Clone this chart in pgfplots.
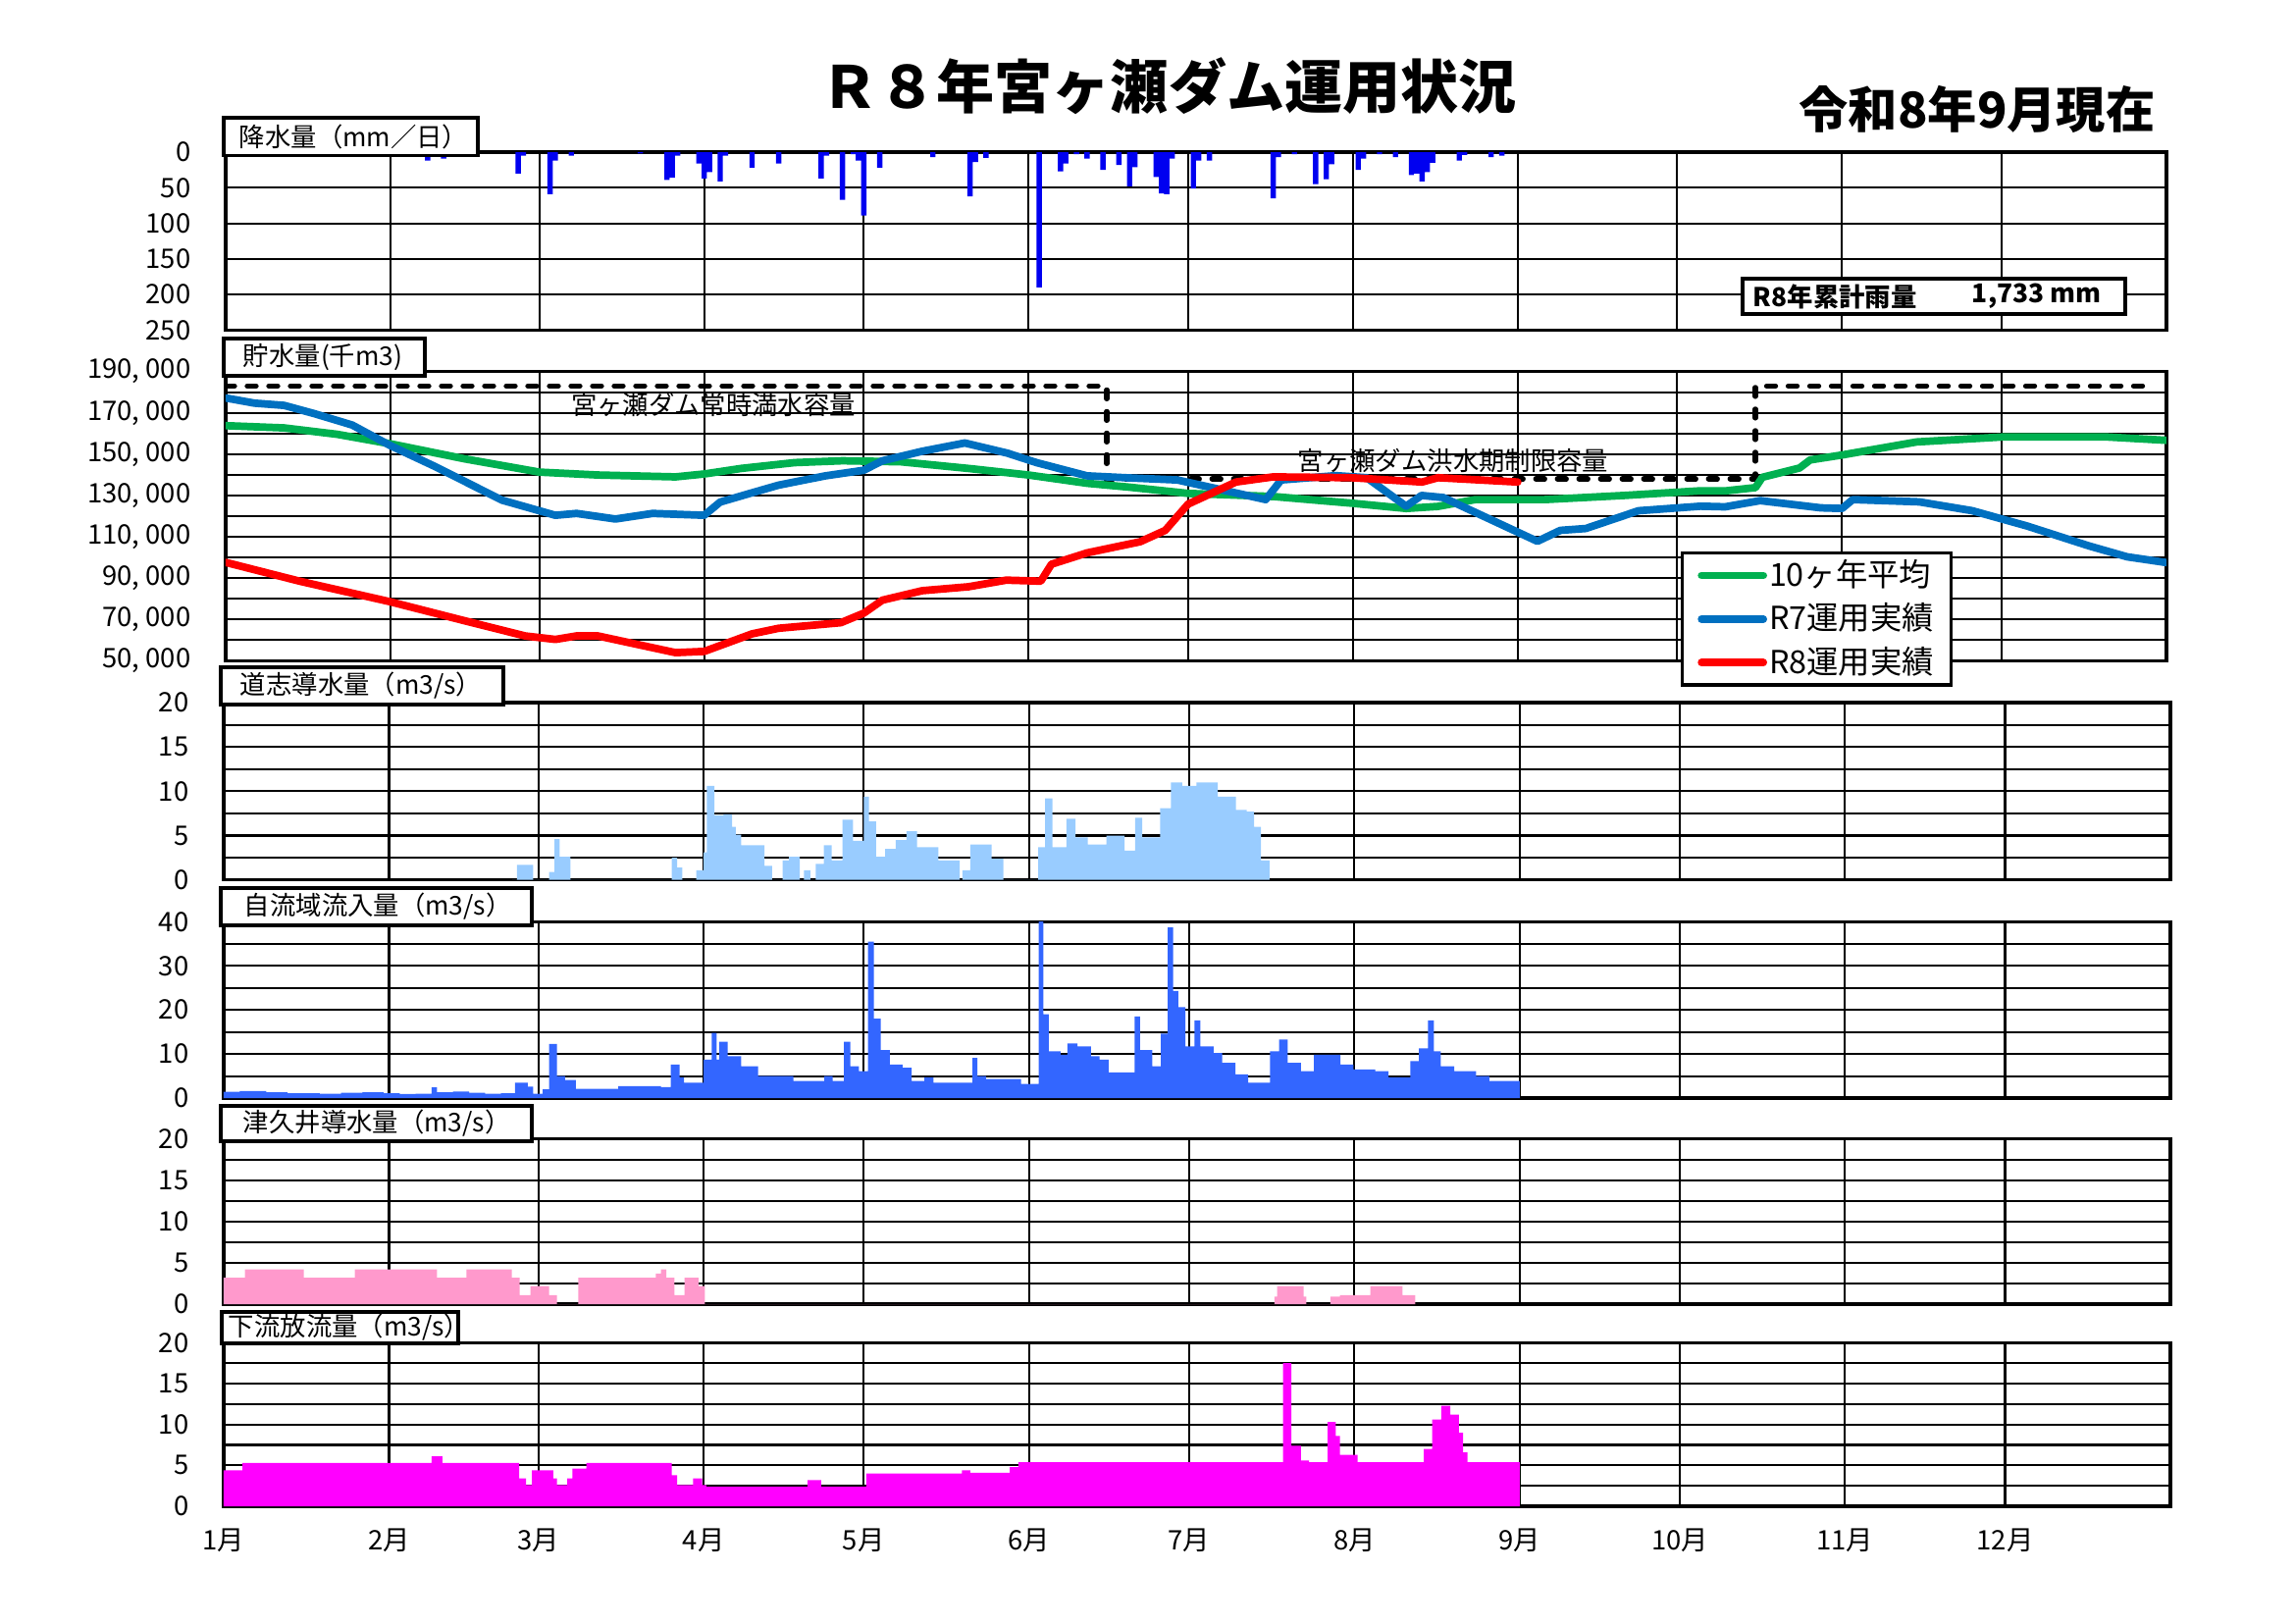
\documentclass[border=0pt]{standalone}
\usepackage{fontspec}
\setmainfont{Noto Sans CJK JP}
\usepackage{pgfplots}
\pgfplotsset{compat=1.18}

\definecolor{rainblue}{RGB}{0,0,240}
\definecolor{doshi}{RGB}{153,204,255}
\definecolor{inflow}{RGB}{51,102,255}
\definecolor{tsukui}{RGB}{255,153,204}
\definecolor{release}{RGB}{255,0,255}
\definecolor{avgreen}{RGB}{0,176,80}
\definecolor{rsevenblue}{RGB}{0,112,192}
\definecolor{reighted}{RGB}{255,0,0}

\newcommand\tf{\fontsize{7.8pt}{9pt}\selectfont}
\newcommand\boxf{\fontsize{7.5pt}{9pt}\selectfont}

\pgfplotsset{
  panel/.style={
    scale only axis, anchor=north west,
    xmin=0, xmax=365,
    xtick={31,59,90,120,151,181,212,243,273,304,334},
    xticklabels={},
    xmajorgrids, ymajorgrids, yminorgrids,
    major tick length=0pt, minor tick length=0pt,
    major grid style={black, line width=0.6pt},
    minor grid style={black, line width=0.6pt},
    axis line style={black, line width=1pt},
    yticklabel style={font=\tf, anchor=east, inner sep=0pt, xshift=-3.5mm},
  },
  upper/.style={panel, width=197.8mm},
  lower/.style={panel, width=198.4mm},
}

\begin{document}
\begin{tikzpicture}[x=0.1mm, y=-0.1mm]
\useasboundingbox (0,0) rectangle (2339,1654);

% rainfall (mm/day), axis reversed
\begin{axis}[upper, at={(23mm,-15.5mm)}, height=18.15mm,
  ymin=0, ymax=250, y dir=reverse,
  ytick={0,50,100,150,200,250}, yticklabels={0,50,100,150,200,250}]
\addplot[ybar, bar width=1, bar shift=0pt, fill=rainblue, draw=none] coordinates {
  (38,12)(39,3)(41,9)(55,30)(56,5)(61,59)(62,12)(65,5)(78,2)(83,39)(84,36)(85,5)
  (89,16)(90,37)(91,28)(93,41)(94,5)(99,22)(104,16)(112,37)(113,5)(116,67)(118,3)
  (119,12)(120,89)(123,22)(133,7)(140,62)(141,14)(143,8)(153,190)(157,27)(158,16)
  (160,3)(162,9)(165,25)(168,18)(170,48)(171,21)(175,35)(176,58)(177,59)(178,9)
  (182,51)(183,12)(185,12)(197,65)(198,7)(201,3)(205,45)(207,38)(208,17)(213,25)
  (214,9)(217,3)(220,7)(223,32)(224,30)(225,41)(226,28)(227,15)(232,12)(233,4)
  (238,7)(240,5)};
\end{axis}

% storage (thousand m3)
\begin{axis}[upper, at={(23mm,-37.86mm)}, height=29.47mm,
  ymin=50, ymax=190,
  ytick={50,70,...,190},
  yticklabels={{50, 000},{70, 000},{90, 000},{110, 000},{130, 000},{150, 000},{170, 000},{190, 000}},
  minor ytick={60,80,...,180},
  legend cell align=left,
  legend style={at={(axis description cs:0.7496,0.3777)}, anchor=north west,
    draw=black, line width=0.9pt, fill=white,
    font=\fontsize{9.2pt}{11pt}\selectfont,
    inner xsep=1.6mm, inner ysep=0.45mm, row sep=0.8mm, nodes={inner sep=0.2mm}},
  legend image code/.code={\draw[#1, line cap=round] (0mm,0mm) -- (6.3mm,0mm);}]
\addplot[black, line width=1.5pt, dash pattern=on 0.9mm off 1.3mm, line cap=round, forget plot]
  coordinates {(0,183)(165.7,183)(165.7,138)(287.7,138)(287.7,183)(362,183)};
\addplot[avgreen, line width=2.2pt, line join=round, line cap=round] coordinates {
  (0,163.8)(11,162.7)(21,159.6)(31,155)(45,147.7)(59,141.3)(70,139.9)(84.6,139)
  (90,140.4)(97,143.1)(107,145.9)(116,146.8)(127,146.3)(140,143)(151,139.9)
  (162,135.9)(170,134)(181,131)(197,129.5)(212,126.2)(222,123.7)(228,124.7)
  (235,128)(248,128)(263,130)(277,132.2)(282,132.2)(287.7,133.8)(289,138.8)
  (296,143.3)(298,147.2)(304,149.6)(318,155.9)(334,158.3)(354,158.3)(365,156.7)};
\addlegendentry{10ヶ年平均}
\addplot[rsevenblue, line width=2.2pt, line join=round, line cap=round] coordinates {
  (0,177.2)(5.4,174.7)(11,173.6)(16.7,169.6)(23.8,164.1)(31,154.1)(39.3,144.1)
  (52,127.7)(62,120.4)(66,121.3)(73.3,118.6)(80.3,121.3)(90,120.4)(93,126.8)
  (99,131.3)(104,135)(112.8,139.5)(120,142.2)(123.5,146.8)(131,151.4)(139,155.4)
  (147,150.5)(152.5,145.9)(162,139.5)(170,138.5)(179,137.5)(195.6,128)(198.5,137.5)
  (208.8,139.6)(214.6,138.6)(222,124.8)(224.9,130)(229,129)(246.7,107.8)(251,113.1)
  (255.8,114)(265.7,122.6)(277.4,124.8)(282,124.5)(288.6,127.5)(300,124)(304,123.7)
  (306,128)(318.5,126.9)(328.5,122.6)(338.8,115.2)(350.4,105.6)(357.6,100.3)(365,97.5)};
\addlegendentry{R7運用実績}
\addplot[reighted, line width=2.2pt, line join=round, line cap=round] coordinates {
  (0,97.6)(13.9,88.5)(31,78.5)(45,69.3)(56.3,62)(62,60.3)(66,62)(70,62)(84.6,53.9)
  (90,54.5)(99,63)(104,65.7)(115.7,68.4)(120,73)(123.5,79.3)(131,83.9)(139.7,85.8)
  (146.8,89)(153.3,88.5)(155.3,96.7)(162,102.2)(172,107.6)(176.7,113.1)(181,125.8)
  (190,136.5)(197,139)(211.7,138.6)(225,136.5)(228,138.6)(243,136.5)};
\addlegendentry{R8運用実績}
\end{axis}

% Doshi diversion (m3/s)
\begin{axis}[lower, at={(22.8mm,-71.6mm)}, height=18.07mm,
  ymin=0, ymax=20, ytick={0,5,10,15,20}, yticklabels={0,5,10,15,20},
  minor ytick={2.5,7.5,12.5,17.5}]
\addplot[const plot, fill=doshi, draw=none] coordinates {
  (54,0)(55,1.7)(58,0)(61,0.9)(62,4.6)(63,2.6)(65,0)(84,2.5)(85,1.4)(86,0)(88.6,1.1)
  (90,3.1)(90.6,10.6)(92,7.3)(93.7,7.4)(95.3,6.0)(96,5.1)(97,3.9)(101.4,1.6)(102.8,0)
  (104.8,2.2)(106,2.6)(108,0)(108.8,1.1)(110,0)(111,1.8)(112.5,3.9)(114,2.2)(116,6.8)
  (118,4.4)(120,9.4)(121,6.6)(122.3,2.6)(124,3.5)(126,4.5)(128,5.5)(130,3.7)(134,2.2)
  (138,0)(138.5,1.1)(140,4.0)(144,2.4)(146.2,0)(152.7,3.7)(154,9.2)(155.4,3.7)
  (158,6.9)(159.7,4.8)(162,4.0)(165.5,5.0)(168.9,3.3)(170.9,7.0)(172.2,4.8)
  (175.6,8.1)(177.6,11.0)(179.7,10.6)(182.4,11)(186.4,9.4)(189.8,7.9)(191.8,7.7)
  (193.2,6.0)(194.5,2.2)(196.1,0)} \closedcycle;
\end{axis}

% own basin inflow (m3/s)
\begin{axis}[lower, at={(22.8mm,-93.93mm)}, height=17.97mm,
  ymin=0, ymax=40, ytick={0,10,20,30,40}, yticklabels={0,10,20,30,40},
  minor ytick={5,15,25,35}]
\addplot[const plot, fill=inflow, draw=none] coordinates {
  (0,1.4)(3,1.6)(8,1.3)(12,1.1)(18,1.0)(22,1.2)(26,1.3)(30,1.1)(33,0.9)(36,1.0)
  (39,2.4)(40,1.3)(43,1.5)(46,1.2)(49,1.0)(52,1.1)(54.6,3.5)(57,2.6)(58,1.0)(59.8,2.0)
  (61,12.3)(62.5,5.0)(64,4.1)(66,2.1)(74,2.7)(82,2.5)(83.8,7.6)(85.5,4.7)(86.3,3.5)
  (90,8.7)(91.5,14.8)(92.4,8.7)(92.9,12.8)(94.5,9.5)(97,7.2)(100.2,5.0)(106.8,3.9)
  (112.6,5.0)(114.2,3.9)(116.3,12.8)(117.5,7.2)(119.1,6.1)(120.8,35.5)(121.9,18)
  (123.2,10.9)(124.9,7.6)(127.3,6.9)(129,3.9)(131.4,4.7)(133.1,3.5)(140.4,9.1)
  (141.3,5.0)(142.9,4.3)(149.5,3.2)(152.8,42)(153.7,19)(154.7,10.6)(156.9,9.8)
  (158.2,12.4)(160.1,11.7)(162.6,9.5)(164.2,8.7)(165.9,5.8)(170.8,18.5)(171.8,10.9)
  (174.1,7.2)(175.7,14.6)(177,38.7)(178,24.3)(179,20.6)(180.3,11.7)(182,17.6)
  (183.1,11.7)(185.6,10.2)(187.2,8.0)(189.7,5.4)(192.1,3.5)(196.2,10.6)(197.9,13.3)
  (199.5,8.0)(202,6.1)(204.4,9.8)(209.4,7.6)(211.8,6.5)(215.9,6.1)(218.4,4.7)
  (222.5,8.4)(224.1,11.3)(225.8,17.6)(226.9,10.6)(228.2,7.2)(230.7,6.1)(234.8,5.0)
  (237.3,3.9)(243,0)} \closedcycle;
\end{axis}

% Tsukui diversion (m3/s)
\begin{axis}[lower, at={(22.8mm,-116.07mm)}, height=16.83mm,
  ymin=0, ymax=20, ytick={0,5,10,15,20}, yticklabels={0,5,10,15,20},
  minor ytick={2.5,7.5,12.5,17.5}]
\addplot[const plot, fill=tsukui, draw=none] coordinates {
  (0,3.2)(4,4.2)(15,3.2)(24.6,4.2)(40,3.2)(45.5,4.2)(54,3.2)(55.5,1.1)(57.5,2.2)
  (61,1.1)(62.5,0)(66.5,3.2)(81,3.7)(82,4.2)(83,3.2)(84.5,1.1)(86.4,3.2)(89,2.2)
  (90.2,0)(197,0.9)(197.5,2.2)(202.5,0.9)(203,0)(207.5,0.9)(209.3,1.1)(215,2.2)
  (221,1.1)(223.4,0)} \closedcycle;
\end{axis}

% downstream release (m3/s)
\begin{axis}[lower, at={(22.8mm,-136.83mm)}, height=16.67mm,
  ymin=0, ymax=20, ytick={0,5,10,15,20}, yticklabels={0,5,10,15,20},
  minor ytick={2.5,7.5,12.5,17.5},
  xtick={0,31,59,90,120,151,181,212,243,273,304,334},
  xticklabels={1月,2月,3月,4月,5月,6月,7月,8月,9月,10月,11月,12月},
  xticklabel style={font=\tf, anchor=center, inner sep=0pt, yshift=-3.5mm}]
\addplot[const plot, fill=release, draw=none] coordinates {
  (0,4.4)(3.5,5.3)(39,6.1)(41,5.3)(55.4,3.4)(56.7,2.6)(57.8,4.4)(61.8,3.4)(62.5,2.6)
  (64.4,3.4)(65.4,4.6)(68,5.3)(84,3.8)(85,2.6)(88,3.4)(89.7,2.6)(90.5,2.4)(109.5,3.2)
  (112,2.4)(120.5,4.0)(138.4,4.4)(140,4.1)(147.4,4.8)(149,5.4)(198.6,17.5)(200.2,7.4)
  (202,5.6)(203.5,5.4)(207,10.3)(208.5,8.6)(209.3,6.3)(212.6,5.4)(225,7.0)(226.6,10.6)
  (228.3,12.3)(230,11.2)(231.6,9.0)(232.4,6.6)(233.2,5.4)(243,0)} \closedcycle;
\end{axis}

% titles
\node[font=\fontsize{16.8pt}{19pt}\selectfont\bfseries] at (1191,88) {Ｒ８年宮ヶ瀬ダム運用状況};
\node[font=\fontsize{14.3pt}{16pt}\selectfont\bfseries] at (2015,111) {令和8年9月現在};

% panel title boxes
\begin{scope}[line width=1.1pt]
\draw[fill=white] (228,120) rectangle (487,158.5);
\node[anchor=west, font=\boxf, inner sep=0pt] at (242,139.5) {降水量（mm／日）};
\draw[fill=white] (228,345) rectangle (433,383);
\node[anchor=west, font=\boxf, inner sep=0pt] at (246,364) {貯水量(千m3)};
\draw[fill=white] (225,680) rectangle (513,718);
\node[anchor=west, font=\boxf, inner sep=0pt] at (243,699) {道志導水量（m3/s）};
\draw[fill=white] (225,905) rectangle (542,943);
\node[anchor=west, font=\boxf, inner sep=0pt] at (247,924) {自流域流入量（m3/s）};
\draw[fill=white] (225,1127) rectangle (542,1163);
\node[anchor=west, font=\boxf, inner sep=0pt] at (246,1145) {津久井導水量（m3/s）};
\draw[fill=white] (226,1337) rectangle (467,1369);
\node[anchor=west, font=\boxf, inner sep=0pt] at (231,1353) {下流放流量（m3/s）};
% cumulative rainfall box
\draw[fill=white] (1776,284) rectangle (2166,320);
\node[anchor=west, font=\boxf\bfseries, inner sep=0pt] at (1785,302) {R8年累計雨量};
\node[anchor=west, font=\boxf\bfseries, inner sep=0pt] at (2008,302) {1,733 mm};
\end{scope}

% capacity labels
\node[font=\boxf] at (727,412) {宮ヶ瀬ダム常時満水容量};
\node[font=\boxf] at (1481,469) {宮ヶ瀬ダム洪水期制限容量};
\end{tikzpicture}
\end{document}
